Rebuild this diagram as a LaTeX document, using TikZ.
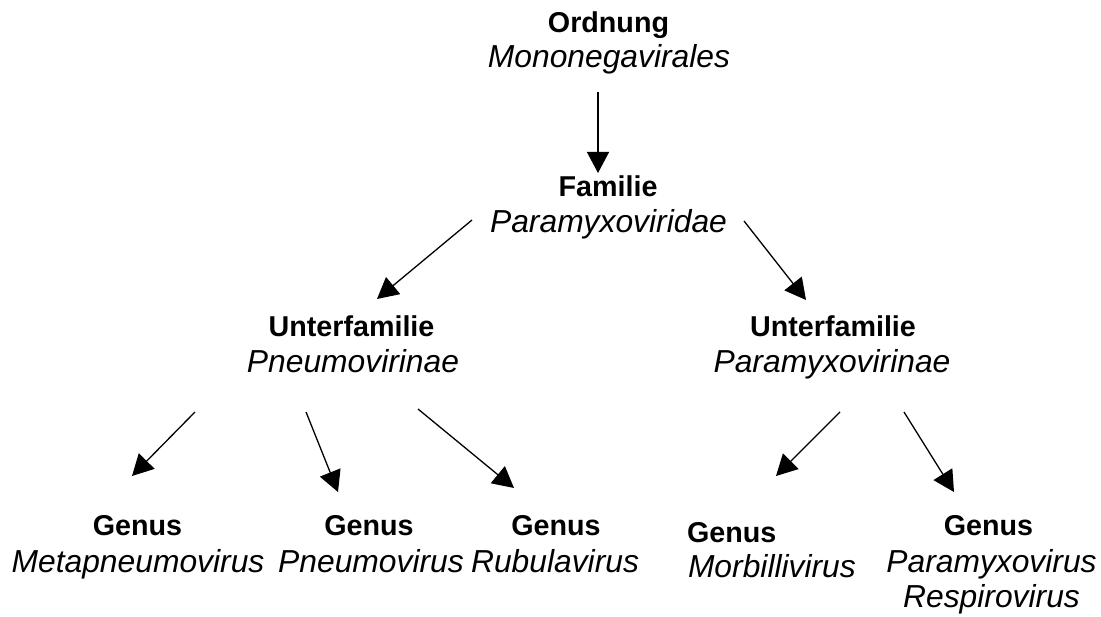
\documentclass[tikz,border=0pt]{standalone}
\usepackage{fontspec}
\setmainfont{Liberation Sans}
\usetikzlibrary{arrows.meta}
\begin{document}
\begin{tikzpicture}[x=1pt,y=-1pt,
  lbl/.style={inner sep=0pt, outer sep=0pt, anchor=base},
  rank/.style={lbl, font=\fontsize{28.7}{34}\selectfont\bfseries},
  taxon/.style={lbl, font=\fontsize{31.8}{36}\selectfont\itshape},
  arr/.style={line width=1.3pt, -{Triangle[length=21pt,width=22pt]}}]
\useasboundingbox (0,0) rectangle (1101,617);
% order
\node[rank]  (ordR) at (608.5,33) {Ordnung};
\node[taxon] (ordT) at (609,68) {Mononegavirales};
% family
\node[rank]  (famR) at (608,197) {Familie};
\node[taxon] (famT) at (608.5,233) {Paramyxoviridae};
% subfamilies
\node[rank]  (pneR) at (351.5,337) {Unterfamilie};
\node[taxon] (pneT) at (353,373) {Pneumovirinae};
\node[rank]  (parR) at (833,337) {Unterfamilie};
\node[taxon] (parT) at (832,373) {Paramyxovirinae};
% genera
\node[rank]  (g1R) at (137.5,536) {Genus};
\node[taxon] (g1T) at (138,572) {Metapneumovirus};
\node[rank]  (g2R) at (369,536) {Genus};
\node[taxon] (g2T) at (371,572) {Pneumovirus};
\node[rank]  (g3R) at (556,536) {Genus};
\node[taxon] (g3T) at (555,572) {Rubulavirus};
\node[rank, anchor=base west]  (g4R) at (687,542) {Genus};
\node[taxon, anchor=base west] (g4T) at (688,577) {Morbillivirus};
\node[rank]  (g5R) at (988.5,536) {Genus};
\node[taxon] (g5T) at (991.5,572) {Paramyxovirus};
\node[taxon] (g5T2) at (991.5,607) {Respirovirus};
% arrow end points
\coordinate (a0s) at (598,92);  \coordinate (a0e) at (598,173);
\coordinate (a1s) at (472,220); \coordinate (a1e) at (377,299);
\coordinate (a2s) at (744,221); \coordinate (a2e) at (806,300);
\coordinate (a3s) at (195,412); \coordinate (a3e) at (132,476);
\coordinate (a4s) at (306,412); \coordinate (a4e) at (338,492);
\coordinate (a5s) at (418,409); \coordinate (a5e) at (514,488);
\coordinate (a6s) at (840,412); \coordinate (a6e) at (776,476);
\coordinate (a7s) at (904,412); \coordinate (a7e) at (954,492);
\draw[arr] (a0s) -- (a0e);
\draw[arr] (a1s) -- (a1e);
\draw[arr] (a2s) -- (a2e);
\draw[arr] (a3s) -- (a3e);
\draw[arr] (a4s) -- (a4e);
\draw[arr] (a5s) -- (a5e);
\draw[arr] (a6s) -- (a6e);
\draw[arr] (a7s) -- (a7e);
\end{tikzpicture}
\end{document}
